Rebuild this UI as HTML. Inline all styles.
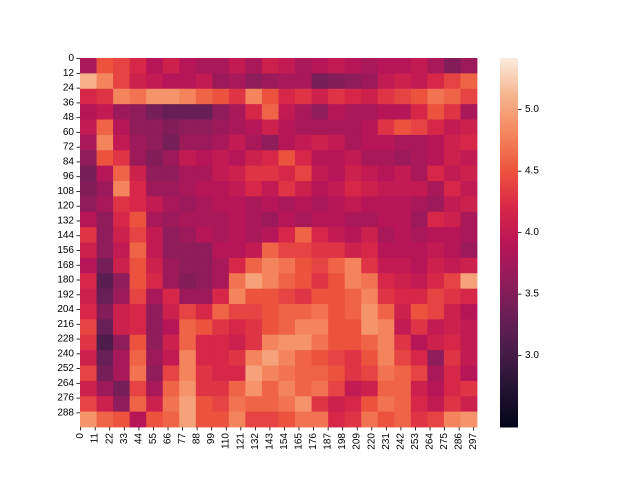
<!DOCTYPE html>
<html><head><meta charset="utf-8"><style>
html,body{margin:0;padding:0;background:#fff;}
svg{display:block;font-family:"Liberation Sans","DejaVu Sans",sans-serif;}
</style></head><body>
<svg id="chart" width="640" height="480"></svg>
<script>
const gridRows = 24, gridCols = 24;
const heatValues = [
[3.8,4.5,4.4,4.2,3.9,4.1,3.9,3.8,3.8,4.0,3.8,4.1,4.0,3.8,3.9,4.0,3.9,3.8,3.9,3.9,4.0,3.8,3.5,3.7],
[5.1,4.8,4.4,4.1,4.0,3.9,3.9,4.0,3.7,3.8,3.6,3.7,3.8,3.8,3.4,3.5,3.6,3.7,4.0,4.1,4.0,4.2,4.4,4.6],
[4.2,4.3,4.8,4.7,4.9,4.9,4.8,4.6,4.5,4.3,4.8,4.5,4.2,4.3,4.1,4.3,4.2,4.1,4.3,4.4,4.5,4.7,4.6,4.4],
[3.9,4.0,3.7,3.6,3.4,3.3,3.3,3.3,3.6,3.8,4.2,4.6,4.0,3.8,3.6,3.9,3.8,3.8,3.9,3.9,4.2,4.5,4.3,3.8],
[4.0,4.6,3.9,3.6,3.6,3.5,3.6,3.6,3.7,3.8,3.9,4.1,3.9,3.8,3.8,3.8,3.8,3.9,4.3,4.5,4.4,4.2,4.0,4.1],
[3.8,4.8,4.0,3.7,3.6,3.4,3.7,3.7,3.8,4.0,3.8,3.6,3.9,4.0,4.1,4.0,3.8,3.9,3.9,3.8,3.8,3.9,4.1,4.2],
[3.6,4.5,4.3,3.7,3.5,3.7,4.0,3.9,4.0,3.9,4.1,4.2,4.5,4.2,3.9,3.9,4.0,3.8,3.8,3.7,3.8,3.9,4.1,4.0],
[3.4,3.9,4.6,4.1,3.6,3.6,3.8,3.8,4.0,4.1,4.3,4.3,4.2,4.4,4.0,3.9,4.1,4.0,3.9,4.0,3.8,4.2,4.0,4.1],
[3.5,3.7,4.8,4.2,3.7,3.7,3.8,3.9,3.9,4.0,4.2,4.0,4.3,4.1,3.9,4.0,4.2,4.1,4.0,4.0,4.0,3.8,4.2,4.0],
[3.6,3.8,4.3,4.2,4.0,3.8,3.7,3.8,3.9,3.9,3.8,3.9,3.8,3.9,3.8,3.9,4.0,3.9,3.9,3.9,3.8,3.7,4.0,4.1],
[3.9,3.6,4.2,4.5,3.8,3.7,3.8,3.8,3.8,3.9,3.8,3.7,3.9,3.8,3.9,3.9,3.8,3.8,3.9,3.9,3.7,4.2,4.1,3.8],
[4.3,3.6,4.1,4.4,4.0,3.6,3.7,3.9,3.8,3.9,3.8,3.9,4.2,4.6,4.2,4.0,3.9,4.1,3.8,3.9,3.8,3.9,3.9,3.8],
[4.1,3.6,4.0,4.6,4.0,3.6,3.6,3.6,3.9,3.9,4.0,4.6,4.4,4.4,4.3,4.3,4.1,4.2,3.9,3.9,3.9,4.0,3.9,3.7],
[3.9,3.4,4.1,4.5,4.1,3.7,3.6,3.6,3.8,4.2,4.6,4.8,4.7,4.5,4.4,4.6,4.8,4.3,4.0,4.0,3.9,4.1,4.0,4.1],
[4.2,3.2,3.6,4.5,4.2,3.7,3.5,3.6,3.8,4.7,5.0,4.8,4.6,4.5,4.3,4.5,4.8,4.7,4.2,4.1,4.0,4.2,4.4,5.0],
[4.1,3.3,3.7,4.4,3.8,4.2,3.7,3.7,4.2,4.8,4.5,4.5,4.4,4.3,4.5,4.5,4.6,4.8,4.3,4.2,4.2,4.4,4.3,4.2],
[4.2,3.5,4.1,4.2,3.6,4.1,4.4,4.2,4.6,4.4,4.4,4.5,4.6,4.6,4.7,4.5,4.6,4.9,4.6,4.1,4.5,4.4,4.1,3.9],
[4.4,3.3,4.1,4.2,3.6,3.9,4.6,4.5,4.3,4.2,4.3,4.5,4.6,4.8,4.8,4.5,4.5,4.9,4.8,4.0,4.3,4.0,4.1,4.0],
[4.3,3.1,3.6,4.5,3.6,4.1,4.6,4.2,4.2,4.1,4.3,4.8,4.9,4.9,4.7,4.5,4.5,4.6,4.8,4.3,3.9,4.1,4.2,4.0],
[4.1,3.3,3.8,4.6,3.7,4.0,4.8,4.2,4.2,4.3,4.8,5.0,4.8,4.6,4.5,4.4,4.3,4.5,4.8,4.4,4.2,3.6,4.3,4.0],
[4.4,3.4,3.8,4.7,3.6,4.4,4.8,4.3,4.2,4.2,5.0,4.8,4.7,4.6,4.6,4.5,4.3,4.4,4.7,4.6,4.4,3.8,4.2,3.9],
[4.1,3.7,3.4,4.4,3.8,4.6,4.9,4.3,4.3,4.6,4.9,4.6,4.8,4.6,4.7,4.4,4.0,4.1,4.6,4.6,4.1,3.9,4.2,4.3],
[4.4,4.1,3.6,4.6,4.1,4.7,5.0,4.5,4.4,4.7,4.6,4.6,4.7,4.9,4.3,4.1,4.2,4.5,4.7,4.6,4.2,4.0,4.3,4.1],
[4.9,4.6,4.5,3.9,4.5,4.6,5.0,4.5,4.5,4.8,4.4,4.4,4.5,4.7,4.7,4.2,4.3,4.7,4.5,4.6,4.3,4.4,4.8,4.9]
];
const xTickLabels = [0,11,22,33,44,55,66,77,88,99,110,121,132,143,154,165,176,187,198,209,220,231,242,253,264,275,286,297];
const yTickLabels = [0,12,24,36,48,60,72,84,96,108,120,132,144,156,168,180,192,204,216,228,240,252,264,276,288];
const cbarTicks = [3.0,3.5,4.0,4.5,5.0];
const dataSize = 300, vmin = 2.42, vmax = 5.42;

const NS = "http://www.w3.org/2000/svg";
const svg = document.getElementById('chart');
const L = 80, T = 58, W = 397, H = 369;
const CBX = 500, CBW = 18;
const stops = [[0,[3,5,26]],[0.1,[34,19,49]],[0.2,[69,28,71]],[0.3,[106,31,86]],[0.4,[146,28,91]],[0.5,[185,22,87]],[0.6,[217,40,71]],[0.7,[237,86,62]],[0.8,[244,135,94]],[0.9,[246,180,142]],[1,[250,235,221]]];
function cmap(t){t=Math.max(0,Math.min(1,t));for(let i=1;i<stops.length;i++){if(t<=stops[i][0]){const a=stops[i-1],b=stops[i];const f=(t-a[0])/(b[0]-a[0]);const c=a[1].map((v,k)=>Math.round(v+(b[1][k]-v)*f));return `rgb(${c[0]},${c[1]},${c[2]})`;}}return 'rgb(250,235,221)';}
function norm(v){return (v-vmin)/(vmax-vmin);}
function mk(tag,attrs){const e=document.createElementNS(NS,tag);for(const k in attrs)e.setAttribute(k,attrs[k]);svg.appendChild(e);return e;}
const xIdx = i => L + (i+0.5)*W/dataSize;
const yIdx = i => T + (i+0.5)*H/dataSize;
const cw = W/gridCols, ch = H/gridRows;
heatValues.forEach((row,r)=>row.forEach((v,c)=>{
  const e=mk('rect',{x:(L+c*cw).toFixed(2),y:(T+r*ch).toFixed(2),width:(cw+0.4).toFixed(2),height:(ch+0.4).toFixed(2),fill:cmap(norm(v))});
  
  
}));
xTickLabels.forEach(v=>{
  const x=xIdx(v);
  const t=mk('line',{x1:x,y1:T+H,x2:x,y2:T+H+3.5,stroke:'#000','stroke-width':0.8});
  
  
  const tx=mk('text',{x:0,y:0,'font-size':10,'text-anchor':'end','dominant-baseline':'central',transform:`translate(${x},${T+H+6}) rotate(-90)`});
  tx.textContent=v;
  
  
});
yTickLabels.forEach(v=>{
  const y=yIdx(v);
  const t=mk('line',{x1:L-3.5,y1:y,x2:L,y2:y,stroke:'#000','stroke-width':0.8});
  
  
  const tx=mk('text',{x:L-6,y:y,'font-size':10,'text-anchor':'end','dominant-baseline':'central'});
  tx.textContent=v;
  
  
});
// colorbar
const nSeg=120;
for(let i=0;i<nSeg;i++){
  const e=mk('rect',{x:CBX,y:(T+H-(i+1)*H/nSeg).toFixed(2),width:CBW,height:(H/nSeg+0.5).toFixed(2),fill:cmap((i+0.5)/nSeg)});
  
  
}
const cbY = v => T + H - norm(v)*H;
cbarTicks.forEach(v=>{
  const y=cbY(v);
  const t=mk('line',{x1:CBX+CBW,y1:y,x2:CBX+CBW+3.5,y2:y,stroke:'#000','stroke-width':0.8});
  
  
  const tx=mk('text',{x:CBX+CBW+7,y:y,'font-size':10,'dominant-baseline':'central'});
  tx.textContent=v.toFixed(1);
  
  
});
</script>
</body></html>
